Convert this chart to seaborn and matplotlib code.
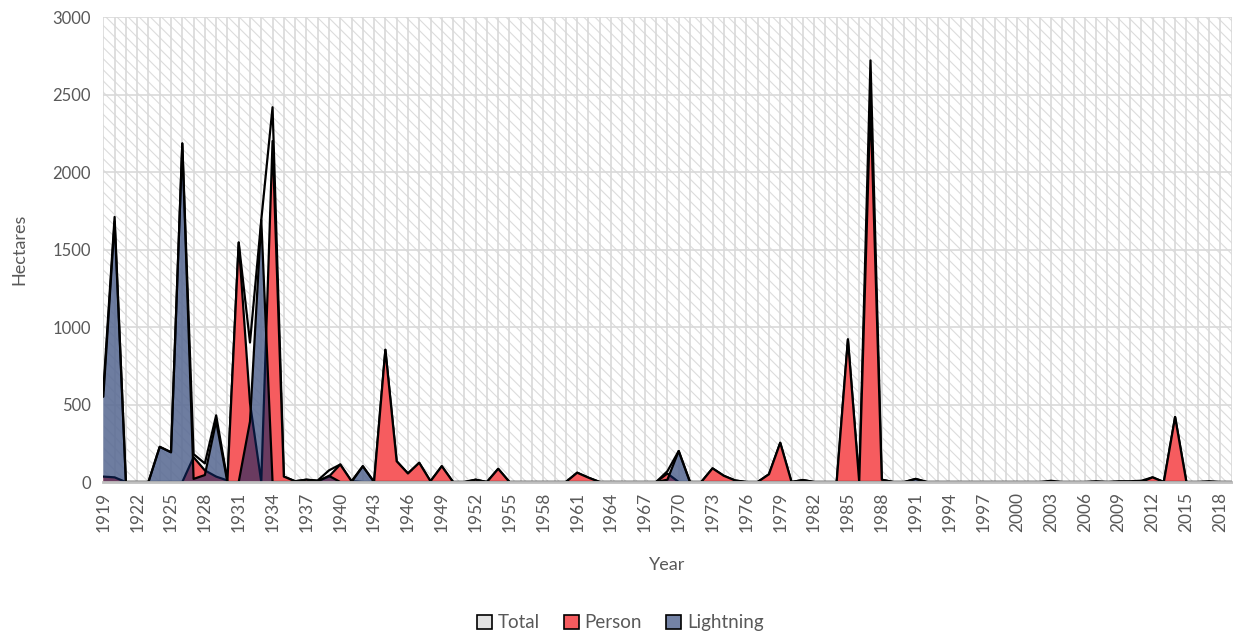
import numpy as np
import pandas as pd
import matplotlib
matplotlib.use("Agg")
import matplotlib.pyplot as plt
from matplotlib.patches import Rectangle, Patch
import seaborn as sns

years = list(range(1919, 2020))

person = [35, 30, 0, 0, 0, 0, 0, 0, 160, 75,           # 1919-1928
          35, 10, 1545, 510, 0, 2200, 35, 5, 15, 5,      # 1929-1938
          35, 113, 5, 0, 0, 853, 134, 55, 124, 5,        # 1939-1948
          102, 0, 0, 15, 0, 85, 0, 0, 0, 0,              # 1949-1958
          0, 0, 60, 28, 0, 0, 0, 0, 0, 0,                # 1959-1968
          55, 0, 0, 0, 88, 40, 10, 0, 0, 50,             # 1969-1978
          253, 0, 13, 0, 0, 0, 920, 0, 2450, 15,         # 1979-1988
          0, 0, 0, 0, 0, 0, 0, 0, 0, 0,                  # 1989-1998
          0, 0, 0, 0, 0, 0, 0, 0, 0, 0,                  # 1999-2008
          0, 0, 0, 30, 0, 419, 0, 0, 0, 0,               # 2009-2018
          0]                                             # 2019

lightning = [550, 1680, 0, 0, 0, 227, 192, 2184, 20, 45,  # 1919-1928
             392, 0, 0, 390, 1690, 0, 0, 0, 0, 5,         # 1929-1938
             40, 0, 0, 102, 0, 0, 0, 0, 0, 0,             # 1939-1948
             0, 0, 0, 0, 0, 0, 0, 0, 0, 0,                # 1949-1958
             0, 0, 0, 0, 0, 0, 0, 0, 0, 0,                # 1959-1968
             15, 200, 0, 0, 0, 0, 0, 0, 0, 0,             # 1969-1978
             0, 0, 0, 0, 0, 0, 0, 0, 0, 0,                # 1979-1988
             0, 0, 20, 0, 0, 0, 0, 0, 0, 0,               # 1989-1998
             0, 0, 0, 0, 0, 0, 0, 0, 0, 0,                # 1999-2008
             0, 0, 0, 0, 0, 0, 0, 0, 0, 0,                # 2009-2018
             0]                                           # 2019

total = [590, 1710, 0, 0, 0, 227, 192, 2184, 180, 120,    # 1919-1928
         430, 10, 1545, 900, 1690, 2418, 35, 5, 15, 10,   # 1929-1938
         75, 113, 5, 102, 0, 853, 134, 55, 124, 5,        # 1939-1948
         102, 0, 0, 15, 0, 85, 0, 0, 0, 0,                # 1949-1958
         0, 0, 60, 28, 0, 0, 0, 0, 0, 0,                  # 1959-1968
         70, 200, 0, 0, 88, 40, 10, 0, 0, 50,             # 1969-1978
         253, 0, 13, 0, 0, 0, 920, 0, 2720, 15,           # 1979-1988
         0, 0, 20, 0, 0, 0, 0, 0, 0, 0,                   # 1989-1998
         0, 0, 0, 0, 8, 0, 0, 0, 5, 0,                    # 1999-2008
         5, 5, 8, 30, 0, 419, 0, 0, 5, 0,                 # 2009-2018
         0]                                               # 2019

x_tick_years = list(range(1919, 2019, 3))
y_ticks = [0, 500, 1000, 1500, 2000, 2500, 3000]

df = pd.DataFrame({"Year": years, "Total": total, "Person": person, "Lightning": lightning})
long = df.melt(id_vars="Year", var_name="Series", value_name="Hectares")

sns.set_theme(style="white")
plt.rcParams["font.family"] = ["Lato", "DejaVu Sans"]
plt.rcParams["hatch.color"] = "#DCDCDC"
plt.rcParams["hatch.linewidth"] = 0.8

fig = plt.figure(figsize=(12.33, 6.37), dpi=100)
ax = fig.add_axes([0.0838, 0.2433, 0.9150, 0.7300])

# hatched plot-area background
ax.add_patch(Rectangle((0, 0), 1, 1, transform=ax.transAxes, facecolor="white",
                       edgecolor="#DCDCDC", hatch="\\\\\\", lw=0, zorder=0))

fills = {
    "Total": (1, 1, 1, 0.72),
    "Person": "#F65C5F",
    "Lightning": (13/255, 38/255, 97/255, 0.60),
}
z = 2
for name in ["Total", "Person", "Lightning"]:
    ax.fill_between(df["Year"], 0, df[name], facecolor=fills[name],
                    edgecolor="none", lw=0, zorder=z)
    sub = long[long["Series"] == name]
    sns.lineplot(data=sub, x="Year", y="Hectares", color="black", lw=1.6,
                 ax=ax, zorder=z + 0.5, legend=False)
    z += 1

ax.set_xlim(1919, 2019)
ax.set_ylim(0, 3000)
ax.set_xticks(x_tick_years)
ax.set_xticks(years, minor=True)
ax.set_xticklabels([str(y) for y in x_tick_years], rotation=90, fontsize=12.5, color="#595959")
ax.set_yticks(y_ticks)
ax.set_yticklabels([str(v) for v in y_ticks], fontsize=12, color="#595959")
ax.tick_params(axis="both", which="both", length=0)
ax.tick_params(axis="x", pad=7)
ax.tick_params(axis="y", pad=9)

ax.set_axisbelow(True)
ax.grid(axis="x", which="both", color="#D9D9D9", lw=1.2)
ax.grid(axis="y", which="major", color="#D9D9D9", lw=1.2)

for s in ["top", "right", "left"]:
    ax.spines[s].set_visible(False)
ax.spines["bottom"].set_color("#BFBFBF")
ax.spines["bottom"].set_linewidth(2)
ax.spines["bottom"].set_zorder(10)

ax.set_xlabel("Year", fontsize=13, color="#595959", labelpad=18)
ax.set_ylabel("Hectares", fontsize=13, color="#595959", labelpad=18)

handles = [Patch(facecolor="#E3E3E3", edgecolor="black", lw=1.2, label="Total"),
           Patch(facecolor="#F65C5F", edgecolor="black", lw=1.2, label="Person"),
           Patch(facecolor="#7483A6", edgecolor="black", lw=1.2, label="Lightning")]
fig.legend(handles=handles, loc="center", bbox_to_anchor=(0.503, 0.022), ncol=3,
           frameon=False, fontsize=13.5, handlelength=0.8, handleheight=0.8,
           handletextpad=0.3, columnspacing=1.3, labelcolor="#595959")

fig.savefig("out.png", dpi=100)
